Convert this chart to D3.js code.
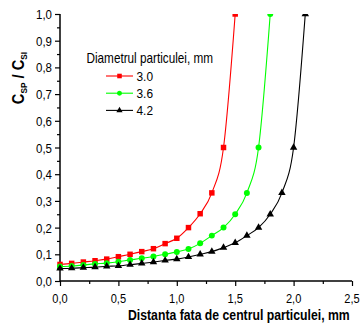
<!DOCTYPE html>
<html><head><meta charset="utf-8">
<script src="https://cdn.jsdelivr.net/npm/d3@7"></script>
<style>body{margin:0;background:#fff}svg{display:block}text{font-family:"Liberation Sans",Arial,sans-serif}</style>
</head><body><div id="c"></div>
<script>
const xTicks = [0, 0.5, 1.0, 1.5, 2.0, 2.5];
const yTicks = [0, 0.1, 0.2, 0.3, 0.4, 0.5, 0.6, 0.7, 0.8, 0.9, 1.0];
const legendTitle = "Diametrul particulei, mm";
const seriesNames = ["3.0", "3.6", "4.2"];
const seriesColors = ["#ff0000", "#00ff00", "#000000"];
const xRed = [0,0.1,0.2,0.3,0.4,0.5,0.6,0.7,0.8,0.9,1.0,1.1,1.2,1.3,1.4,1.5];
const yRed = [0.062,0.066,0.071,0.076,0.082,0.091,0.100,0.110,0.121,0.140,0.160,0.200,0.252,0.330,0.500,1.000];
const xGreen = [0,0.1,0.2,0.3,0.4,0.5,0.6,0.7,0.8,0.9,1.0,1.1,1.2,1.3,1.4,1.5,1.6,1.7,1.8];
const yGreen = [0.054,0.056,0.060,0.064,0.067,0.072,0.079,0.085,0.092,0.100,0.109,0.120,0.141,0.170,0.200,0.250,0.330,0.500,1.000];
const xBlack = [0,0.1,0.2,0.3,0.4,0.5,0.6,0.7,0.8,0.9,1.0,1.1,1.2,1.3,1.4,1.5,1.6,1.7,1.8,1.9,2.0,2.1];
const yBlack = [0.047,0.048,0.050,0.052,0.055,0.057,0.061,0.066,0.071,0.077,0.082,0.090,0.100,0.110,0.125,0.143,0.170,0.200,0.250,0.330,0.500,1.000];

const W = 360, H = 329;
const svg = d3.select("#c").append("svg").attr("width", W).attr("height", H);
const x = d3.scaleLinear().domain([0, 2.5]).range([60, 352]);
const y = d3.scaleLinear().domain([0, 1.0]).range([281, 14]);
const fmt = d => d3.format(".1f")(d).replace(".", ",");

function label(g, px, py, str, size, anchor, sx, weight, rot) {
  const t = g.append("g").attr("transform", `translate(${px},${py})` + (rot ? ` rotate(${rot})` : "") + ` scale(${sx},1)`);
  return t.append("text").attr("text-anchor", anchor).attr("font-size", size)
    .attr("font-weight", weight || "normal").attr("fill", "#000").text(str);
}

// clip
svg.append("clipPath").attr("id", "clip").append("rect")
  .attr("x", 55).attr("y", 14).attr("width", 300).attr("height", 270);

// axes
const ax = svg.append("g");
const xMinor = d3.range(0, 2.51, 0.25).filter(v => Math.abs(v*2 - Math.round(v*2)) > 1e-6);
const yMinor = d3.range(0.05, 1.0, 0.1);
const xAxis = d3.axisBottom(x).tickValues(xTicks).tickSize(5).tickFormat("");
const yAxis = d3.axisLeft(y).tickValues(yTicks).tickSize(5).tickFormat("");
const gx = ax.append("g").attr("transform", `translate(0,${y(0)})`).call(xAxis);
const gy = ax.append("g").attr("transform", `translate(${x(0)},0)`).call(yAxis);
ax.append("g").attr("transform", `translate(0,${y(0)})`).call(d3.axisBottom(x).tickValues(xMinor).tickSize(3).tickFormat("")).select(".domain").remove();
ax.append("g").attr("transform", `translate(${x(0)},0)`).call(d3.axisLeft(y).tickValues(yMinor).tickSize(3).tickFormat("")).select(".domain").remove();
ax.selectAll("path.domain").attr("d", null);
gx.select(".domain").attr("d", `M${x(0)},0H${x(2.5)}`);
gy.select(".domain").attr("d", `M0,${y(0)}V${y(1)}`);
ax.selectAll(".domain").attr("stroke", "#000").attr("stroke-width", 1.5);
ax.selectAll(".tick line").attr("stroke", "#000").attr("stroke-width", 1.2);

xTicks.forEach(v => label(svg, x(v), 303, fmt(v), 13.5, "middle", 0.82));
yTicks.forEach(v => label(svg, 52, y(v) + 5, fmt(v), 13.5, "end", 0.85));

// axis titles
label(svg, 128, 320, "Distanta fata de centrul particulei, mm", 14, "start", 0.875, "bold");
const yt = label(svg, 23.5, 78, "", 16, "middle", 0.92, "bold", -90);
yt.append("tspan").text("C");
yt.append("tspan").attr("font-size", 9).attr("dy", 3).text("SP");
yt.append("tspan").attr("dy", -3).text(" / C");
yt.append("tspan").attr("font-size", 9).attr("dy", 3).text("SI");

// series
const data = [
  {xs: xRed, ys: yRed, sym: d3.symbolSquare, size: 30},
  {xs: xGreen, ys: yGreen, sym: d3.symbolCircle, size: 28},
  {xs: xBlack, ys: yBlack, sym: d3.symbolTriangle, size: 24}
];
const plot = svg.append("g").attr("clip-path", "url(#clip)");
const line = d3.line().x(d => x(d[0])).y(d => y(d[1])).curve(d3.curveMonotoneX);
data.forEach((s, i) => {
  const pts = s.xs.map((v, j) => [v, s.ys[j]]);
  plot.append("path").attr("d", line(pts)).attr("fill", "none").attr("stroke", seriesColors[i]).attr("stroke-width", 1.1);
  plot.selectAll(null).data(pts).enter().append("path")
    .attr("transform", d => `translate(${x(d[0])},${y(d[1])})`)
    .attr("d", d3.symbol().type(s.sym).size(s.size)()).attr("fill", seriesColors[i]);
});

// legend
label(svg, 86.5, 63, legendTitle, 14, "start", 0.84);
data.forEach((s, i) => {
  const ly = 76 + i * 17.2;
  svg.append("line").attr("x1", 106).attr("x2", 133).attr("y1", ly).attr("y2", ly)
    .attr("stroke", seriesColors[i]).attr("stroke-width", 1.1);
  svg.append("path").attr("transform", `translate(119.5,${ly})`)
    .attr("d", d3.symbol().type(s.sym).size(s.size * 0.7)()).attr("fill", seriesColors[i]);
  label(svg, 136.5, ly + 5, seriesNames[i], 13.5, "start", 0.88);
});
</script></body></html>
